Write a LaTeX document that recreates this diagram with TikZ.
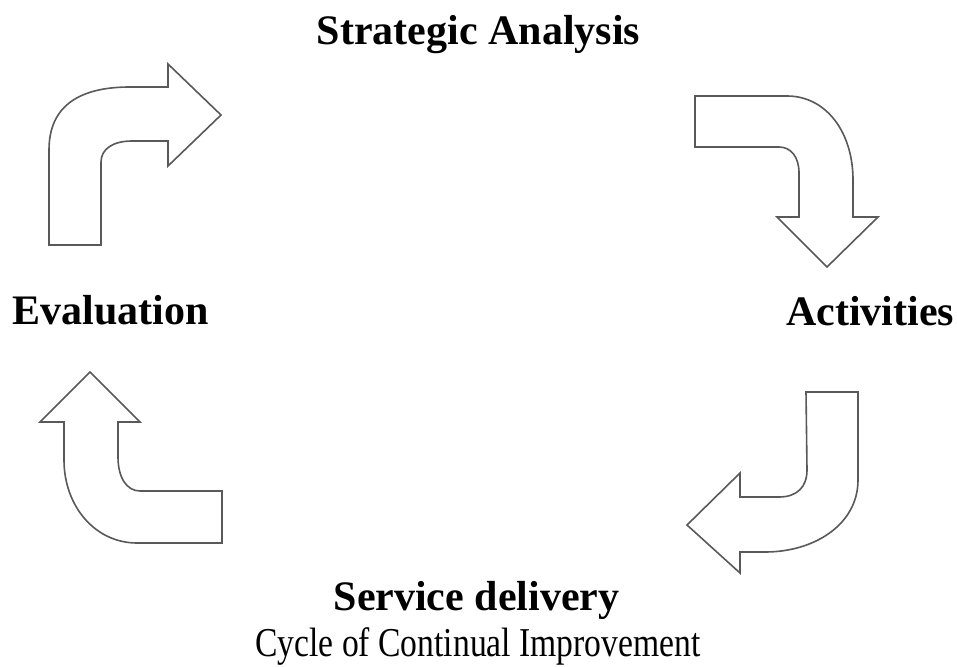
\documentclass[tikz,border=0pt]{standalone}
\usepackage{fontspec}
\setmainfont{Liberation Serif}
\tikzset{
  turn/.style={draw=black!65, line width=1.6pt, fill=white, line join=miter},
  stage/.style={anchor=base, inner sep=0pt, font=\fontsize{42}{48}\selectfont\bfseries},
  caption/.style={anchor=base, inner sep=0pt, xscale=0.82, font=\fontsize{41}{48}\selectfont}
}
\begin{document}
\begin{tikzpicture}[x=1pt, y=-1pt]
  \useasboundingbox[fill=white] (0,0) rectangle (957,666);
  % stage labels
  \node[stage] (strategy) at (478.5,45) {Strategic Analysis};
  \node[stage] (activities) at (870,325) {Activities};
  \node[stage] (delivery) at (476.5,610) {Service delivery};
  \node[stage] (evaluation) at (110.5,324) {Evaluation};
  \node[caption] (cycle) at (478,656) {Cycle of Continual Improvement};
  % bent block arrows
  \draw[turn] (49,245) -- (49,150) .. controls (49,104) and (82,87) .. (130,87)
    -- (168,87) -- (168,64) -- (221,115) -- (168,166) -- (168,141) -- (132,141)
    .. controls (113,141) and (101,149) .. (101,162) -- (101,245) -- cycle;
  \draw[turn] (695,96) -- (787,96) .. controls (826,96) and (853,132) .. (853,180)
    -- (853,217) -- (878,217) -- (827,267) -- (777,217) -- (799,217) -- (799,173)
    .. controls (799,157) and (791,147) .. (779,147) -- (695,147) -- cycle;
  \draw[turn] (806,392) -- (858,392) -- (858,480) .. controls (858,524) and (815,552) .. (765,552)
    -- (740,552) -- (740,573) -- (687,525) -- (740,473) -- (740,497) -- (779,497)
    .. controls (797,497) and (807,487) .. (807,470) -- cycle;
  \draw[turn] (222,491) -- (222,543) -- (137,543) .. controls (95,543) and (64,506) .. (64,460)
    -- (64,422) -- (40,422) -- (90,372) -- (140,422) -- (118,422) -- (118,457)
    .. controls (118,478) and (127,491) .. (140,491) -- cycle;
\end{tikzpicture}
\end{document}
